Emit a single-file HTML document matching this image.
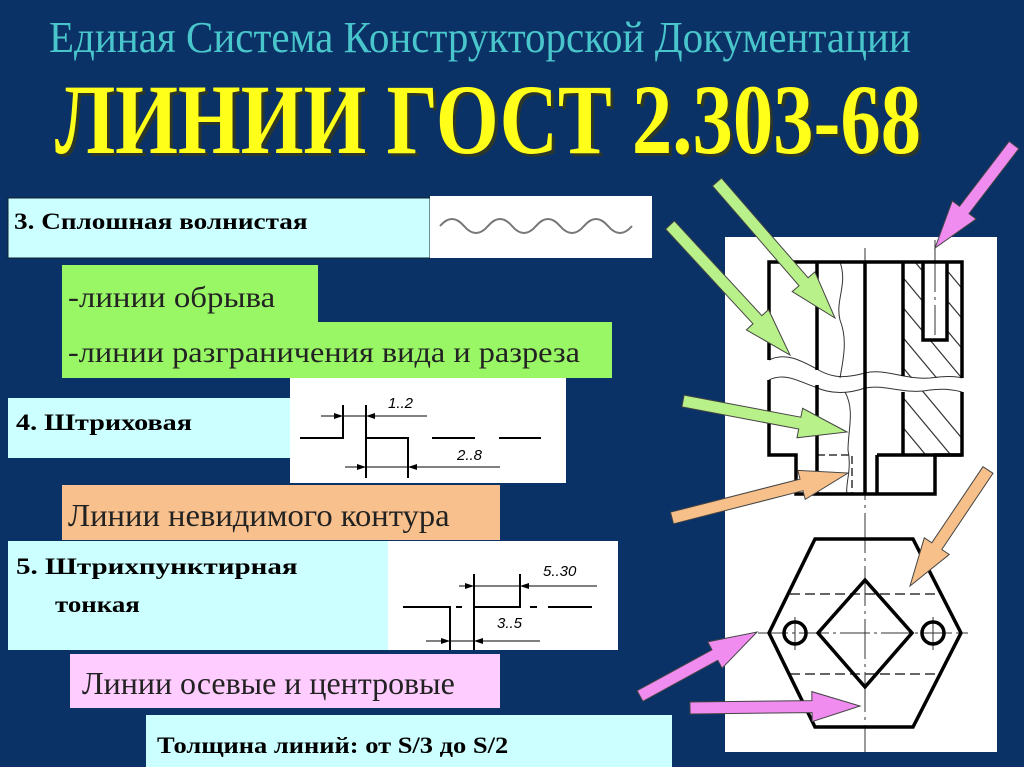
<!DOCTYPE html>
<html><head><meta charset="utf-8">
<style>
html,body{margin:0;padding:0;background:#0b3266;}
svg{display:block;}
</style></head>
<body>
<svg id="s" width="1024" height="767" viewBox="0 0 1024 767" xmlns="http://www.w3.org/2000/svg" font-family="'Liberation Serif', 'DejaVu Serif', serif">
<rect width="1024" height="767" fill="#0b3266"/>
<!-- titles -->
<text transform="translate(49,52) scale(0.82,1)" x="0" y="0" font-family="'Liberation Serif', serif" font-size="44" fill="#49c6cc" textLength="1051" lengthAdjust="spacingAndGlyphs">Единая Система Конструкторской  Документации</text>
<text transform="translate(58,156) scale(0.72,1)" x="0" y="0" font-family="'Liberation Serif', serif" font-size="100" font-weight="bold" fill="#3a3a10" opacity="0.7" textLength="1203" lengthAdjust="spacingAndGlyphs">ЛИНИИ  ГОСТ 2.303-68</text>
<text transform="translate(55,153) scale(0.72,1)" x="0" y="0" font-family="'Liberation Serif', serif" font-size="100" font-weight="bold" fill="#ffff1a" textLength="1203" lengthAdjust="spacingAndGlyphs">ЛИНИИ  ГОСТ 2.303-68</text>

<!-- box 3 -->
<rect x="8" y="198" width="422" height="60" fill="#ccffff" stroke="#123" stroke-width="1"/>
<rect x="430" y="196" width="222" height="62" fill="#fff"/>
<path d="M440 226 q12 -14 24 0 t24 0 t24 0 t24 0 t24 0 t24 0 t24 0 t24 0" fill="none" stroke="#777" stroke-width="2"/>
<text transform="translate(14,229) scale(0.8,1)" x="0" y="0" font-family="'Liberation Serif', serif" font-size="23" font-weight="bold" textLength="367" lengthAdjust="spacingAndGlyphs">3.  Сплошная волнистая</text>

<!-- green -->
<rect x="62" y="265" width="256" height="60" fill="#99f766"/>
<rect x="62" y="322" width="550" height="56" fill="#99f766"/>
<text transform="translate(68,307) scale(0.8,1)" x="0" y="0" font-family="'Liberation Serif', serif" font-size="30" fill="#222" textLength="259" lengthAdjust="spacingAndGlyphs">-линии обрыва</text>
<text transform="translate(68,362) scale(0.8,1)" x="0" y="0" font-family="'Liberation Serif', serif" font-size="30" fill="#222" textLength="640" lengthAdjust="spacingAndGlyphs">-линии разграничения вида и разреза</text>

<!-- box 4 -->
<rect x="290" y="378" width="276" height="105" fill="#fff"/>
<rect x="8" y="398" width="282" height="60" fill="#ccffff"/>
<text transform="translate(16,430) scale(0.8,1)" x="0" y="0" font-family="'Liberation Serif', serif" font-size="23" font-weight="bold" textLength="220" lengthAdjust="spacingAndGlyphs">4.  Штриховая</text>
<g stroke="#000" fill="none" stroke-width="2">
<path d="M300 438 H343 V405 M366 405 V478 M366 438 H408 V478 M432 438 H475 M499 438 H541"/>
</g>
<g stroke="#000" fill="none" stroke-width="1">
<path d="M321 416 H427 M345 467 H500"/>
</g>
<g fill="#000"><path d="M343 416 l-9 -3 v6z M366 416 l9 -3 v6z M366 467 l-9 -3 v6z M408 467 l9 -3 v6z"/></g>
<text x="388" y="408" font-family="'Liberation Sans', sans-serif" font-size="15" font-style="italic">1..2</text>
<text x="457" y="460" font-family="'Liberation Sans', sans-serif" font-size="15" font-style="italic">2..8</text>

<!-- orange -->
<rect x="62" y="485" width="438" height="55" fill="#f8c08c"/>
<text transform="translate(68,526) scale(0.8,1)" x="0" y="0" font-family="'Liberation Serif', serif" font-size="32" fill="#222" textLength="477" lengthAdjust="spacingAndGlyphs">Линии невидимого контура</text>

<!-- box 5 -->
<rect x="388" y="541" width="230" height="109" fill="#fff"/>
<rect x="8" y="541" width="380" height="109" fill="#ccffff"/>
<text transform="translate(16,574) scale(0.8,1)" x="0" y="0" font-family="'Liberation Serif', serif" font-size="23" font-weight="bold" textLength="352" lengthAdjust="spacingAndGlyphs">5.    Штрихпунктирная</text>
<text transform="translate(55,612) scale(0.8,1)" x="0" y="0" font-family="'Liberation Serif', serif" font-size="23" font-weight="bold" textLength="106" lengthAdjust="spacingAndGlyphs">тонкая</text>
<g stroke="#000" fill="none" stroke-width="2">
<path d="M403 607 H450 V650 M456 607 H462 M474 574 V650 M474 607 H520 V574 M530 607 H537 M548 607 H592"/>
</g>
<g stroke="#000" fill="none" stroke-width="1"><path d="M459 586 H597 M426 641 H540"/></g>
<g fill="#000"><path d="M474 586 l-9 -3 v6z M520 586 l9 -3 v6z M450 641 l-9 -3 v6z M474 641 l9 -3 v6z"/></g>
<text x="543" y="576" font-family="'Liberation Sans', sans-serif" font-size="15" font-style="italic">5..30</text>
<text x="497" y="628" font-family="'Liberation Sans', sans-serif" font-size="15" font-style="italic">3..5</text>

<!-- pink -->
<rect x="70" y="654" width="430" height="54" fill="#ffccff"/>
<text transform="translate(82,694) scale(0.8,1)" x="0" y="0" font-family="'Liberation Serif', serif" font-size="32" fill="#222" textLength="466" lengthAdjust="spacingAndGlyphs">Линии осевые и центровые</text>

<!-- bottom -->
<rect x="146" y="715" width="526" height="52" fill="#ccffff"/>
<text transform="translate(157,753) scale(0.8,1)" x="0" y="0" font-family="'Liberation Serif', serif" font-size="23" font-weight="bold" textLength="439" lengthAdjust="spacingAndGlyphs">Толщина линий: от S/3  до S/2</text>

<!-- drawing -->
<rect x="725" y="237" width="272" height="515" fill="#fff"/>
<defs>
<clipPath id="h1"><path d="M903 262 H923 V340 H947 V262 H962 V378 L930 378 L903 378 Z"/></clipPath>
<clipPath id="h2"><path d="M903 393 L930 390 L962 392 V455 H903 Z"/></clipPath>
</defs>
<g stroke="#333" stroke-width="1.2">
<g clip-path="url(#h1)"><path d="M880 250 l100 120 M880 280 l100 120 M880 310 l100 120 M880 340 l100 120 M880 220 l100 120 M880 190 l100 120"/></g>
<g clip-path="url(#h2)"><path d="M880 370 l100 120 M880 400 l100 120 M880 340 l100 120 M880 430 l100 120"/></g>
</g>
<g stroke="#333" stroke-width="1" fill="none">
<path d="M769 360 C785 352 800 360 815 368 C828 376 840 380 865 373 C885 368 905 380 930 378 C945 376 955 376 962 378"/>
<path d="M769 380 C785 372 800 382 815 387 C828 393 845 395 865 388 C885 384 905 395 930 390 C945 388 955 390 962 392"/>
<path d="M840 262 C848 285 835 300 840 320 C848 340 843 360 840 378 M845 392 C855 410 848 430 848 450 C852 470 845 485 847 494"/>
<path d="M865 248 V752" stroke-dasharray="40 5 3 5"/>
<path d="M935 240 V262 M935 262 V340" stroke-dasharray="30 5 3 5"/>
<path d="M817 455 H852 V494" stroke-dasharray="8 4" stroke-width="1.5"/>
<path d="M790 594 H942 M790 674 H942" stroke-dasharray="10 5" stroke-width="1.5"/>
<path d="M758 633 H968" stroke-dasharray="30 4 3 4"/>
<path d="M795 617 V650 M933 617 V650"/>
</g>
<g stroke="#000" stroke-width="3.5" fill="none" stroke-linejoin="miter">
<path d="M769 360 V262 H962 V378 M769 380 V455 H796 V494 H935 V455 H962 V392"/>
<path d="M817 262 V370 M817 385 V494"/>
<path d="M865 262 V494"/>
<path d="M903 262 V376 M903 392 V455"/>
<path d="M923 262 V340 H947 V262"/>
<path d="M877 455 V494 M877 455 H962"/>
<path d="M815 539 H913 L961 633 L913 727 H815 L769 633 Z"/>
<path d="M865 580 L912 633 L865 687 L818 633 Z"/>
<circle cx="795" cy="633" r="11"/>
<circle cx="933" cy="633" r="11"/>
</g>
<g id="arr"></g>
</svg>
<script>
function arrow(x1,y1,x2,y2,fill){
  var dx=x2-x1,dy=y2-y1,L=Math.sqrt(dx*dx+dy*dy),ux=dx/L,uy=dy/L,nx=-uy,ny=ux;
  var w=6,hw=15,hl=Math.min(48,L*0.45),bx=x2-ux*hl,by=y2-uy*hl;
  var p=[[x1+nx*w,y1+ny*w],[bx+nx*w,by+ny*w],[bx+nx*hw,by+ny*hw],[x2,y2],[bx-nx*hw,by-ny*hw],[bx-nx*w,by-ny*w],[x1-nx*w,y1-ny*w]];
  var e=document.createElementNS("http://www.w3.org/2000/svg","polygon");
  e.setAttribute("points",p.map(function(q){return q[0].toFixed(1)+","+q[1].toFixed(1)}).join(" "));
  e.setAttribute("fill",fill);e.setAttribute("stroke","#444");e.setAttribute("stroke-width","1");
  document.getElementById("arr").appendChild(e);
}
var G="#b8f089",P="#f08cf0",O="#f7c08a";
arrow(717,182,835,318,G);
arrow(670,225,790,355,G);
arrow(683,401,847,432,G);
arrow(1014,145,935,248,P);
arrow(672,518,848,473,O);
arrow(988,470,910,586,O);
arrow(640,696,757,632,P);
arrow(690,708,860,706,P);
</script>
</body></html>
